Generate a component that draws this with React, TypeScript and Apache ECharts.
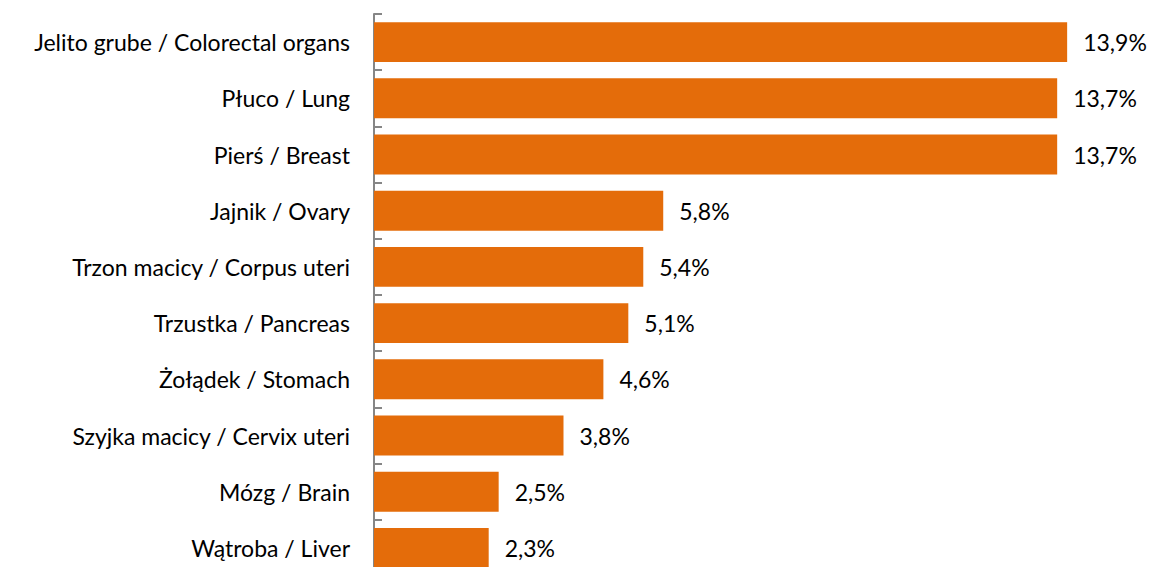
import React, { useEffect, useRef } from "react";
import * as echarts from "echarts";

const categories = [
  "Jelito grube / Colorectal organs",
  "Płuco / Lung",
  "Pierś / Breast",
  "Jajnik / Ovary",
  "Trzon macicy / Corpus uteri",
  "Trzustka / Pancreas",
  "Żołądek / Stomach",
  "Szyjka macicy / Cervix uteri",
  "Mózg / Brain",
  "Wątroba / Liver",
];
const values = [13.9, 13.7, 13.7, 5.8, 5.4, 5.1, 4.6, 3.8, 2.5, 2.3];

export default function App() {
  const ref = useRef<HTMLDivElement>(null);
  useEffect(() => {
    const chart = echarts.init(ref.current!, null, { renderer: "svg" });
    const font = "Lato";
    chart.setOption({
      animation: false,
      grid: {
        left: 374,
        right: 31,
        top: 14,
        height: 562,
        containLabel: false,
        outerBoundsMode: "none",
      },
      xAxis: {
        type: "value",
        min: 0,
        max: 15,
        show: false,
      },
      yAxis: {
        type: "category",
        inverse: true,
        data: categories,
        axisLine: { show: true, lineStyle: { color: "#868686", width: 2 } },
        axisTick: { show: true, inside: true, length: 8, lineStyle: { color: "#868686", width: 2 } },
        axisLabel: { color: "#000", fontSize: 23, fontFamily: font, margin: 24 },
        splitLine: { show: false },
      },
      series: [
        {
          type: "bar",
          data: values,
          barCategoryGap: "29%",
          itemStyle: { color: "#E46C0A" },
          label: {
            show: true,
            position: "right",
            distance: 16,
            color: "#000",
            fontSize: 23,
            fontFamily: font,
            formatter: (p: any) => p.value.toFixed(1).replace(".", ",") + "%",
          },
        },
      ],
    });
    return () => chart.dispose();
  }, []);
  return <div ref={ref} style={{ width: 1153, height: 567, position: "absolute", left: 0, top: 0 }} />;
}
